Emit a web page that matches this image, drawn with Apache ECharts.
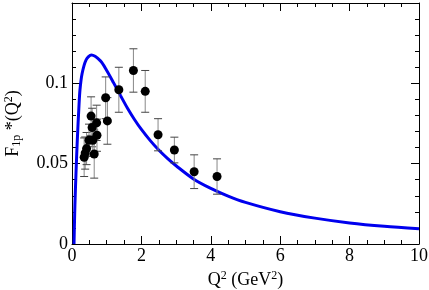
<!DOCTYPE html>
<html><head><meta charset="utf-8">
<script src="https://cdn.jsdelivr.net/npm/echarts@6/dist/echarts.min.js"></script>
<style>html,body{margin:0;padding:0;background:#fff}#c{width:429px;height:290px}</style>
</head><body><div id="c"></div>
<script>
// Experimental points
var ptX   = [0.35, 0.38, 0.42, 0.49, 0.55, 0.58, 0.60, 0.64, 0.71, 0.72, 0.97, 1.02, 1.35, 1.77, 2.11, 2.48, 2.95, 3.52, 4.18];
var ptY   = [0.054, 0.0566, 0.0594, 0.0646, 0.0796, 0.0725, 0.0646, 0.056, 0.0754, 0.0677, 0.091, 0.0766, 0.096, 0.108, 0.095, 0.068, 0.0585, 0.045, 0.042];
var ptErr = [0.012, 0.010, 0.010, 0.010, 0.012, 0.012, 0.010, 0.015, 0.011, 0.010, 0.013, 0.0145, 0.014, 0.0135, 0.013, 0.010, 0.008, 0.0105, 0.011];
// Model curve
var curveX = [0.058, 0.07, 0.085, 0.115, 0.153, 0.20, 0.23, 0.29, 0.41, 0.56, 0.82, 1.0, 1.2, 1.4, 1.6, 1.8, 2.0, 2.25, 2.5, 2.75, 3.0, 3.5, 4.0, 4.5, 5.0, 6.0, 7.0, 8.0, 9.0, 10];
var curveY = [0.0, 0.012, 0.025, 0.044, 0.0648, 0.0856, 0.096, 0.106, 0.1148, 0.1177, 0.114, 0.108, 0.1003, 0.0923, 0.0845, 0.0775, 0.0713, 0.0645, 0.0585, 0.0533, 0.0487, 0.0405, 0.0346, 0.0298, 0.0259, 0.0201, 0.0161, 0.0131, 0.0110, 0.0095];
var xTicks = [0, 2, 4, 6, 8, 10];
var yTicks = [0, 0.05, 0.1];

var font = 'Liberation Serif';
var pts = ptX.map(function(x, i){ return [x, ptY[i], ptErr[i]]; });
var curve = curveX.map(function(x, i){ return [x, curveY[i]]; });

var chart = echarts.init(document.getElementById('c'), null, {renderer: 'canvas'});
var axBase = {
  axisLine: {show: true, onZero: false, lineStyle: {color: '#000', width: 1}},
  axisTick: {show: true, inside: true, length: 8, lineStyle: {color: '#000'}},
  splitLine: {show: false},
  minorSplitLine: {show: false}
};
function fmtY(v){
  var s = Math.round(v * 1000) / 1000;
  for (var i = 0; i < yTicks.length; i++) if (Math.abs(yTicks[i] - s) < 1e-9) return String(yTicks[i]);
  return '';
}
chart.setOption({
  animation: false,
  backgroundColor: '#fff',
  grid: {left: 72, right: 10, top: 3, bottom: 46, containLabel: false, outerBoundsMode: 'none'},
  xAxis: [
    Object.assign({}, axBase, {type: 'value', min: 0, max: 10, interval: 2, position: 'bottom',
      minorTick: {show: true, splitNumber: 4, length: 4, lineStyle: {color: '#000'}},
      axisLabel: {color: '#000', fontFamily: font, fontSize: 18, margin: 3,
        formatter: function(v){ return xTicks.indexOf(v) >= 0 ? String(v) : ''; }},
      name: '{n|Q}{s|2}{n| (GeV}{s|2}{n|)}', nameLocation: 'middle', nameGap: 23,
      nameTextStyle: {rich: {
        n: {fontFamily: font, fontSize: 18, color: '#000'},
        s: {fontFamily: font, fontSize: 12, color: '#000', verticalAlign: 'bottom', padding: [0, 0, 9, 0]}
      }}
    }),
    Object.assign({}, axBase, {type: 'value', min: 0, max: 10, interval: 2, position: 'top',
      minorTick: {show: true, splitNumber: 4, length: 4, lineStyle: {color: '#000'}},
      axisLabel: {show: false}})
  ],
  yAxis: [
    Object.assign({}, axBase, {type: 'value', min: 0, max: 0.15, interval: 0.05, position: 'left',
      minorTick: {show: true, splitNumber: 5, length: 4, lineStyle: {color: '#000'}},
      axisLabel: {color: '#000', fontFamily: font, fontSize: 18, margin: 4, formatter: fmtY},
      name: '{n|F}{b|1p}{n| *(Q}{s|2}{n|)}', nameLocation: 'middle', nameGap: 48, nameRotate: 90,
      nameTextStyle: {rich: {
        n: {fontFamily: font, fontSize: 18, color: '#000'},
        b: {fontFamily: font, fontSize: 12, color: '#000', verticalAlign: 'top', padding: [8, 0, 0, 0]},
        s: {fontFamily: font, fontSize: 12, color: '#000', verticalAlign: 'bottom', padding: [0, 0, 9, 0]}
      }}
    }),
    Object.assign({}, axBase, {type: 'value', min: 0, max: 0.15, interval: 0.05, position: 'right',
      minorTick: {show: true, splitNumber: 5, length: 4, lineStyle: {color: '#000'}},
      axisLabel: {show: false}})
  ],
  series: [
    {
      type: 'line', data: curve, xAxisIndex: 0, yAxisIndex: 0,
      showSymbol: false, smooth: 0.3,
      lineStyle: {color: '#0000ee', width: 3}, z: 3
    },
    {
      type: 'custom', data: pts, xAxisIndex: 0, yAxisIndex: 0, z: 4,
      renderItem: function(params, api){
        var x = api.value(0), y = api.value(1), e = api.value(2);
        var top = api.coord([x, y + e]), bot = api.coord([x, y - e]);
        var w = 4;
        return {type: 'group', children: [
          {type: 'line', shape: {x1: top[0], y1: top[1], x2: bot[0], y2: bot[1]}, style: {stroke: '#888', lineWidth: 1}},
          {type: 'line', shape: {x1: top[0]-w, y1: top[1], x2: top[0]+w, y2: top[1]}, style: {stroke: '#444', lineWidth: 1}},
          {type: 'line', shape: {x1: bot[0]-w, y1: bot[1], x2: bot[0]+w, y2: bot[1]}, style: {stroke: '#444', lineWidth: 1}}
        ]};
      }
    },
    {
      type: 'scatter', data: pts.map(function(p){ return [p[0], p[1]]; }),
      symbol: 'circle', symbolSize: 9, itemStyle: {color: '#000', opacity: 1}, z: 5
    }
  ]
});
</script></body></html>
